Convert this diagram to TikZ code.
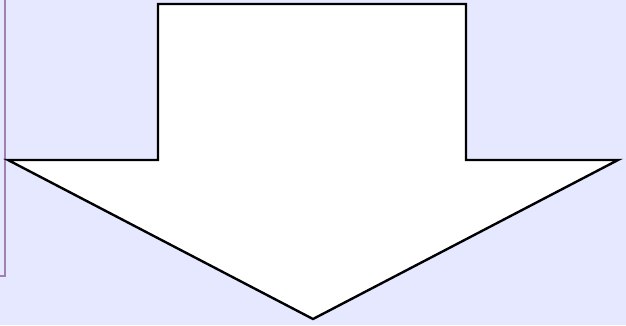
\documentclass[tikz,border=0pt]{standalone}
\usepackage{xcolor}
\usepackage{tikz}
\definecolor{cBack}{RGB}{230,232,255}
\definecolor{cFrame}{RGB}{160,128,176}
\tikzset{
	bigarrow/.style ={draw=black, line width=2.4pt, fill=white, line join=miter},
	edgeline/.style ={draw=cFrame, line width=2.6pt},
}
\begin{document}
\begin{tikzpicture}[x=1pt, y=-1pt]
	\fill[cBack] (0,0) rectangle (626,325);
	\useasboundingbox (0,0) rectangle (626,325);
	\draw[edgeline] (0,276) -- (5,276) -- (5,-2);
	\coordinate (tl) at (158,4);
	\coordinate (tr) at (466,4);
	\coordinate (tip) at (313,319);
	\draw[bigarrow] (tl) -- (tr) -- (466,160) -- (618,160) -- (tip) -- (8,160) -- (158,160) -- cycle;
\end{tikzpicture}
\end{document}
